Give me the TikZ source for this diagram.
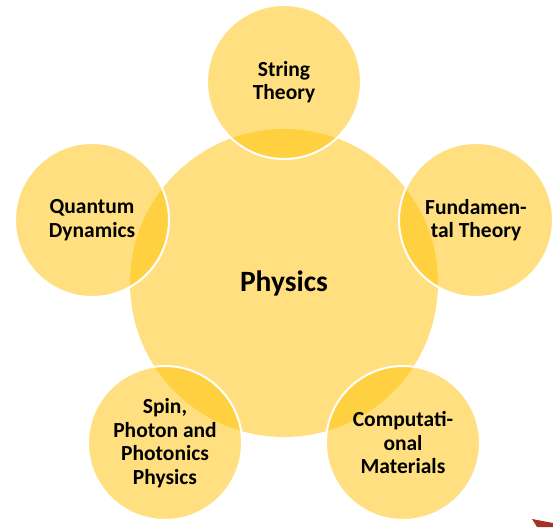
\documentclass[tikz,border=0pt]{standalone}
\usepackage{fontspec}
\setmainfont{Carlito}
\definecolor{gold}{HTML}{FFC000}
\definecolor{darkred}{HTML}{A3322B}
\tikzset{
  hub/.style={circle, fill=gold, fill opacity=0.5, text opacity=1, minimum size=308pt, inner sep=0pt,
    font=\bfseries\fontsize{29.5}{33}\selectfont},
  sat/.style={circle, fill=gold, fill opacity=0.5, draw=white, draw opacity=1, line width=2pt, text opacity=1,
    minimum size=154pt, inner sep=0pt, align=center,
    font=\bfseries\fontsize{21.5}{23.5}\selectfont}
}
\begin{document}
\begin{tikzpicture}[x=1pt,y=-1pt]
\useasboundingbox (0,0) rectangle (553,527);
\node[hub] (phys) at (284,283) {Physics};
\node[sat] (string) at (284,82) {String\\Theory};
\node[sat] (quant) at (92,220) {Quantum\\Dynamics};
\node[sat] (fund) at (476,220) {Fundamen-\\tal Theory};
\node[sat] (spin) at (165,443) {Spin,\\Photon and\\Photonics\\Physics};
\node[sat] (comp) at (403,443) {Computati-\\onal\\Materials};
\fill[darkred] (532,519) -- (553,523) -- (553,527) -- (537,527) -- cycle;
\end{tikzpicture}
\end{document}
